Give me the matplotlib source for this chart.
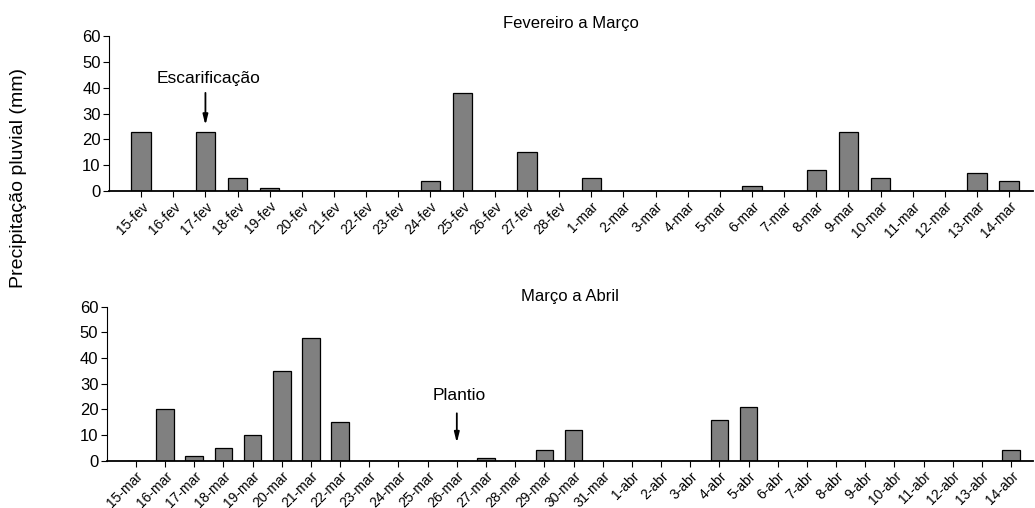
import matplotlib
matplotlib.use("Agg")
import matplotlib.pyplot as plt

plt.rcParams['font.family'] = ['Liberation Sans', 'DejaVu Sans']

# Fevereiro a Março
dias_fev_mar = ['15-fev', '16-fev', '17-fev', '18-fev', '19-fev', '20-fev', '21-fev',
                '22-fev', '23-fev', '24-fev', '25-fev', '26-fev', '27-fev', '28-fev',
                '1-mar', '2-mar', '3-mar', '4-mar', '5-mar', '6-mar', '7-mar',
                '8-mar', '9-mar', '10-mar', '11-mar', '12-mar', '13-mar', '14-mar']
chuva_fev_mar = [23, 0, 23, 5, 1, 0, 0, 0, 0, 4, 38, 0, 15, 0,
                 5, 0, 0, 0, 0, 2, 0, 8, 23, 5, 0, 0, 7, 4]

# Março a Abril
dias_mar_abr = ['15-mar', '16-mar', '17-mar', '18-mar', '19-mar', '20-mar', '21-mar',
                '22-mar', '23-mar', '24-mar', '25-mar', '26-mar', '27-mar', '28-mar',
                '29-mar', '30-mar', '31-mar', '1-abr', '2-abr', '3-abr', '4-abr',
                '5-abr', '6-abr', '7-abr', '8-abr', '9-abr', '10-abr', '11-abr',
                '12-abr', '13-abr', '14-abr']
chuva_mar_abr = [0, 20, 2, 5, 10, 35, 48, 15, 0, 0, 0, 0, 1, 0,
                 4, 12, 0, 0, 0, 0, 16, 21, 0, 0, 0, 0, 0, 0, 0, 0, 4]

fig = plt.figure(figsize=(10.35, 5.08), dpi=100)
ax1 = fig.add_axes([0.1053, 0.624, 0.893, 0.305])
ax2 = fig.add_axes([0.1031, 0.093, 0.895, 0.303])


def painel(ax, dias, chuva, titulo, pad, evento, dia_evento, seta, y_txt):
    x = range(len(dias))
    ax.bar(x, chuva, width=0.6, color='#808080', edgecolor='black', linewidth=0.9)
    ax.set_xlim(-1, len(dias) - 0.25)
    ax.set_ylim(0, 60)
    ax.set_yticks(range(0, 61, 10))
    ax.set_xticks(list(x))
    ax.set_xticklabels(dias, rotation=45, ha='right', rotation_mode='anchor',
                       fontsize=10)
    ax.tick_params(axis='y', labelsize=12, length=4, width=0.8, pad=2)
    ax.tick_params(axis='x', length=4, width=0.8, pad=2)
    for s in ['top', 'right']:
        ax.spines[s].set_visible(False)
    ax.spines['left'].set_linewidth(0.8)
    ax.spines['bottom'].set_linewidth(1.3)
    ax.set_title(titulo, fontsize=12, pad=pad)
    i = dias.index(dia_evento)
    ax.annotate('', xy=(i, seta[1]), xytext=(i, seta[0]),
                arrowprops=dict(arrowstyle='-|>,head_length=0.6,head_width=0.15',
                                color='black', lw=1.3, shrinkA=0, shrinkB=0))
    ax.text(i + 0.1, y_txt, evento, ha='center', va='baseline', fontsize=12.5)


painel(ax1, dias_fev_mar, chuva_fev_mar, 'Fevereiro a Março', 6,
       'Escarificação', '17-fev', (38, 25.5), 42)
painel(ax2, dias_mar_abr, chuva_mar_abr, 'Março a Abril', 4.5,
       'Plantio', '26-mar', (18.5, 7), 23.5)

fig.text(0.018, 0.65, 'Precipitação pluvial (mm)', rotation=90, va='center', ha='center',
         fontsize=14)

fig.savefig('out.png', dpi=100)
